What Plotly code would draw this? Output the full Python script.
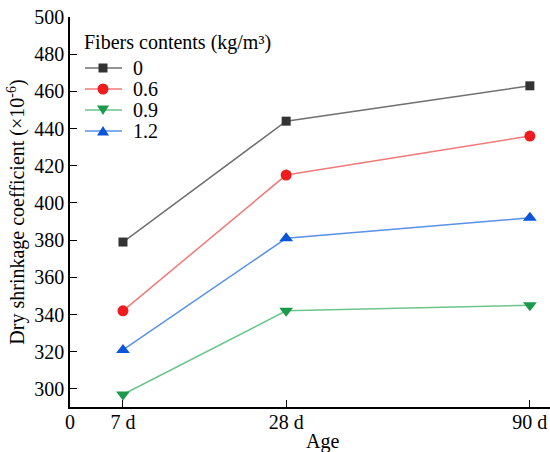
import plotly.graph_objects as go

ages = ["7 d", "28 d", "90 d"]
age_pos = [1.0, 4.08, 8.68]          # uneven axis positions of the age categories
series_names = ["0", "0.6", "0.9", "1.2"]
vals_0 = [379, 444, 463]
vals_06 = [342, 415, 436]
vals_09 = [297, 342, 345]
vals_12 = [321, 381, 392]
tick_text = ["0"] + ages
tick_vals = [0.0] + age_pos
legend_title = "Fibers contents (kg/m³)"

series = [vals_0, vals_06, vals_09, vals_12]
marker_colors = ["#333333", "#ee1c1c", "#1a9a4a", "#0a55d8"]
line_colors = ["#707070", "#f07a7a", "#6cc58c", "#5a90e6"]
symbols = ["square", "circle", "triangle-down", "triangle-up"]
msizes = [9, 11, 12, 12]

FONT = "Liberation Serif, Times New Roman, serif"
W, H = 550, 452
ML, MR, MT, MB = 70, 0, 17, 45
PW, PH = W - ML - MR, H - MT - MB


def px(x):
    return (x - ML) / PW


def py(y):
    return (H - MB - y) / PH


fig = go.Figure()
for name, v, mc, lc, sym, ms in zip(series_names, series, marker_colors, line_colors, symbols, msizes):
    fig.add_trace(go.Scatter(
        x=age_pos, y=v, name=name, mode="lines+markers",
        line=dict(color=lc, width=1.5),
        marker=dict(color=mc, symbol=sym, size=ms),
        showlegend=False,
    ))

# ---- hand-built legend (layout only) ----
shapes = []
annotations = []
annotations.append(dict(text=legend_title, xref="paper", yref="paper", x=px(82), y=py(43),
                        xanchor="left", yanchor="middle", showarrow=False,
                        font=dict(size=20, family=FONT, color="black")))
leg_y = [68, 89, 110, 131]
for name, mc, lc, sym, yy in zip(series_names, marker_colors, line_colors, symbols, leg_y):
    shapes.append(dict(type="line", xref="paper", yref="paper", x0=px(85), x1=px(122),
                       y0=py(yy), y1=py(yy), line=dict(color=lc, width=1.5)))
    cx = 103
    if sym == "square":
        shapes.append(dict(type="rect", xref="paper", yref="paper", x0=px(cx - 4.5), x1=px(cx + 4.5),
                           y0=py(yy + 4.5), y1=py(yy - 4.5), fillcolor=mc, line=dict(width=0)))
    elif sym == "circle":
        shapes.append(dict(type="circle", xref="paper", yref="paper", x0=px(cx - 5.5), x1=px(cx + 5.5),
                           y0=py(yy + 5.5), y1=py(yy - 5.5), fillcolor=mc, line=dict(width=0)))
    elif sym == "triangle-down":
        path = f"M {px(cx-6)} {py(yy-4.5)} L {px(cx+6)} {py(yy-4.5)} L {px(cx)} {py(yy+5)} Z"
        shapes.append(dict(type="path", xref="paper", yref="paper", path=path, fillcolor=mc, line=dict(width=0)))
    else:
        path = f"M {px(cx-6)} {py(yy+4.5)} L {px(cx+6)} {py(yy+4.5)} L {px(cx)} {py(yy-5)} Z"
        shapes.append(dict(type="path", xref="paper", yref="paper", path=path, fillcolor=mc, line=dict(width=0)))
    annotations.append(dict(text=name, xref="paper", yref="paper", x=px(131), y=py(yy),
                            xanchor="left", yanchor="middle", showarrow=False,
                            font=dict(size=20, family=FONT, color="black")))

annotations.append(dict(text="Age", xref="paper", yref="paper", x=px(322), y=py(442),
                        xanchor="center", yanchor="middle", showarrow=False,
                        font=dict(size=20, family=FONT, color="black")))

fig.update_layout(
    width=W, height=H,
    margin=dict(l=ML, r=MR, t=MT, b=MB),
    paper_bgcolor="white", plot_bgcolor="white",
    font=dict(family=FONT, size=20, color="black"),
    showlegend=False,
    shapes=shapes,
    annotations=annotations,
    xaxis=dict(
        range=[0, 9.06], tickmode="array", tickvals=tick_vals, ticktext=tick_text,
        showline=True, linecolor="black", linewidth=1.5, ticks="inside", ticklen=7,
        tickcolor="black", showgrid=False, zeroline=False,
        tickfont=dict(size=20), automargin=False, ticklabelstandoff=-4,
    ),
    yaxis=dict(
        range=[290.3, 500], tickmode="array", tickvals=list(range(300, 501, 20)),
        showline=True, linecolor="black", linewidth=1.5, ticks="inside", ticklen=7,
        tickcolor="black", showgrid=False, zeroline=False, automargin=False,
        title=dict(text="Dry shrinkage coefficient (×10<sup>-6</sup>)", standoff=4, font=dict(size=20)),
        tickfont=dict(size=20),
    ),
)

fig.write_html("out.html", post_script="document.body.style.margin='0';",
               config={"displayModeBar": False})
